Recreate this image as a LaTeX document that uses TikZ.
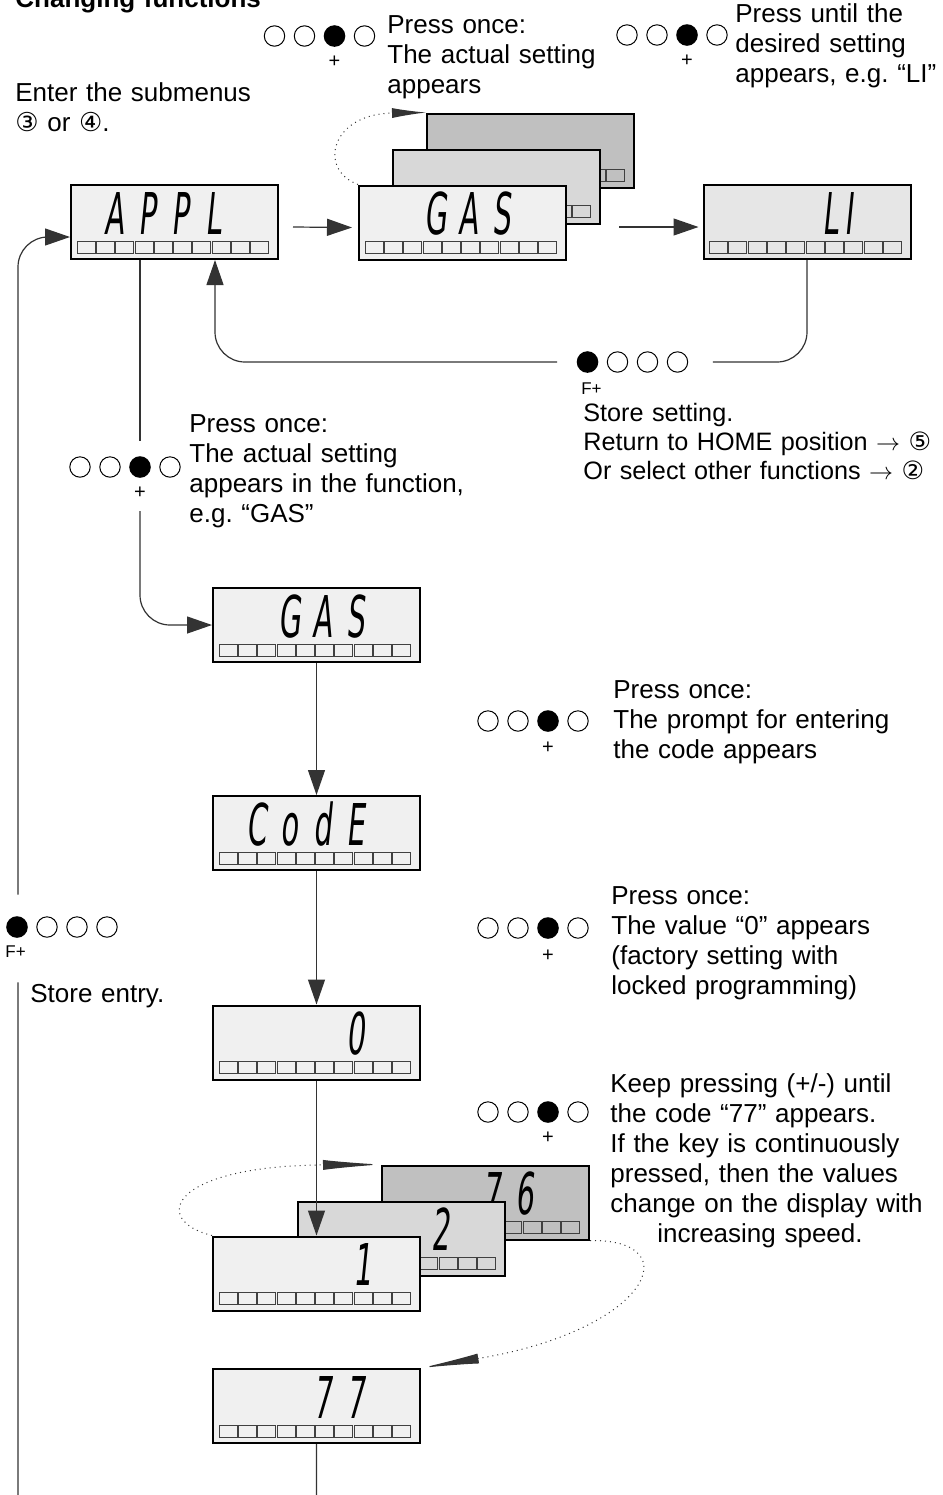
\documentclass[tikz,border=0pt]{standalone}
\usepackage{fontspec}
\setmainfont{Liberation Sans}
\newfontfamily\symfont{DejaVu Sans}
\newfontfamily\segfont[FakeSlant=0.1,FakeStretch=0.5]{DejaVu Sans}
\usepackage{xcolor}
\usepackage{tikz}
\usetikzlibrary{arrows.meta,positioning,calc}

\definecolor{lcdfront}{HTML}{F0F0F0}
\definecolor{lcdmid}{HTML}{D8D8D8}
\definecolor{lcdback}{HTML}{C0C0C0}
\definecolor{lcdli}{HTML}{E6E6E6}
\definecolor{cellline}{HTML}{404040}

% one character position of the display
\newcommand{\cell}[1]{\makebox[16.5pt]{#1}}
% row of four keys, #3 = pressed key
\newcommand{\keyrow}[3]{%
  \node[keyslot] (#1) at (#2) {};
  \foreach \k in {1,...,4}{%
    \ifnum\k=#3\relax
      \fill ($(#1.center)+(\k*15pt-37.5pt,0pt)$) circle (5.4pt);
    \else
      \draw[line width=0.5pt] ($(#1.center)+(\k*15pt-37.5pt,0pt)$) circle (5.1pt);
    \fi}}

\begin{document}
\begin{tikzpicture}[x=0.5pt, y=-0.5pt,
    lcd/.style={rectangle, draw, line width=1pt, fill=lcdfront,
      minimum width=103.5pt, minimum height=37pt,
      inner xsep=13.5pt, inner ysep=0pt, text width=76.5pt, align=left,
      text height=24.5pt, text depth=12.5pt,
      font=\segfont\fontsize{28.8pt}{30pt}\selectfont,
      path picture={\foreach \i in {0,...,9}
        \draw[cellline, line width=0.4pt]
          ([xshift=3pt+\i*9.65pt, yshift=3pt]path picture bounding box.south west) rectangle ++(9pt,6pt);}},
    note/.style={anchor=base west, inner sep=0pt, text width=200pt, align=left,
      font=\fontsize{13pt}{15pt}\selectfont},
    keysign/.style={inner sep=0pt, font=\fontsize{10pt}{11pt}\selectfont},
    fkeysign/.style={inner sep=0pt, font=\fontsize{8.5pt}{10pt}\selectfont},
    keyslot/.style={minimum width=55pt, minimum height=10pt, inner sep=0pt},
    flow/.style={draw=black!80, line width=0.6pt},
    flowarrow/.style={-{Triangle[length=12.5pt,width=8.5pt]}},
    roll/.style={dotted, line width=0.5pt, draw=black!80}]

    \path[use as bounding box, fill=white] (0,0) rectangle (943,1495);

    % texts
    \node[note] (title) at (15,7) {\bfseries Changing functions};
    \node[note] (tEnter) at (15,101) {Enter the submenus\\{\symfont ③} or {\symfont ④}.};
    \node[note] (tOnceA) at (387,33) {Press once:\\The actual setting\\appears};
    \node[note] (tUntil) at (735,22) {Press until the\\desired setting\\appears, e.g.\ “LI”};
    \node[note] (tOnceB) at (189,432) {Press once:\\The actual setting\\appears in the function,\\e.g.\ “GAS”};
    \node[note, font=\fontsize{12.6pt}{14.5pt}\selectfont] (tStore) at (583,421) {Store setting.\\Return to HOME position $\rightarrow$ {\symfont ⑤}\\Or select other functions $\rightarrow$ {\symfont ②}};
    \node[note] (tPrompt) at (613,698) {Press once:\\The prompt for entering\\the code appears};
    \node[note] (tValue) at (611,904) {Press once:\\The value “0” appears\\(factory setting with\\locked programming)};
    \node[note] (tKeep) at (610,1092) {Keep pressing (+/-) until\\the code “77” appears.\\If the key is continuously\\pressed, then the values\\change on the display with\\\hspace*{23.5pt}increasing speed.};
    \node[note] (tEntry) at (30,1002) {Store entry.};

    % keys
    \keyrow{keyA}{319.5,36}{3}
    \node[keysign] (plusA) at ($(keyA.center)+(7.5pt,-13pt)$) {+};
    \keyrow{keyB}{672,35}{3}
    \node[keysign] (plusB) at ($(keyB.center)+(7.5pt,-13pt)$) {+};
    \keyrow{keyS}{632.5,362}{1}
    \node[fkeysign] (fplusS) at (591.5,389) {F+};
    \keyrow{keyM}{125,467}{3}
    \node[keysign] (plusM) at ($(keyM.center)+(7.5pt,-13pt)$) {+};
    \keyrow{keyR1}{533,721}{3}
    \node[keysign] (plusR1) at ($(keyR1.center)+(7.5pt,-13.5pt)$) {+};
    \keyrow{keyR2}{533,928}{3}
    \node[keysign] (plusR2) at ($(keyR2.center)+(7.5pt,-14pt)$) {+};
    \keyrow{keyR3}{533,1112}{3}
    \node[keysign] (plusR3) at ($(keyR3.center)+(7.5pt,-13pt)$) {+};
    \keyrow{keyF}{62,927}{1}
    \node[fkeysign, anchor=west] (fplusF) at (5,952) {F+};

    % displays
    \node[lcd] (appl) at (174.5,222) {\cell{A}\cell{P}\cell{P}\cell{L}};
    \node[lcd, fill=lcdback] (gasC) at (530.5,150.5) {};
    \node[lcd, fill=lcdmid] (gasB) at (496.5,186.5) {};
    \node[lcd] (gasA) at (462.5,222.5) {\cell{}\cell{G}\cell{A}\cell{S}};
    \node[lcd, fill=lcdli] (li) at (807,222) {\hspace*{46pt}L\hspace{3pt}I};
    \node[lcd] (gasfn) at (316.5,625) {\cell{}\cell{G}\cell{A}\cell{S}};
    \node[lcd] (code) at (316.5,833) {\cell{C}\cell{o}\cell{d}\cell{E}};
    \node[lcd] (v0) at (316.5,1042.5) {\cell{}\cell{}\cell{}\cell{0}};
    \node[lcd, fill=lcdback] (v76) at (485.5,1202.5) {\cell{}\cell{}\cell{7}\cell{6}};
    \node[lcd, fill=lcdmid] (v2) at (401.5,1238.5) {\cell{}\cell{}\cell{}\cell{2}};
    \node[lcd] (v1) at (316.5,1273.5) {\cell{}\cell{}\cell{}\makebox[16.5pt][r]{1}};
    \node[lcd] (v77) at (316.5,1406) {\cell{}\cell{}\cell{7}\cell{7}};
    \coordinate (loopL) at (18,1525);

    % connectors
    \draw[flow, flowarrow] ($(appl.east)+(7pt,-2.5pt)$) -- ($(gasA.west)+(-3pt,-2.5pt)$);
    \draw[flow, flowarrow] ($(gasB.east |- li.west)+(9pt,-2.5pt)$) -- ($(li.west)+(-2pt,-2.5pt)$);
    \draw[flow, rounded corners=15pt] (li.south) |- ($(keyS.east)+(12.5pt,0pt)$);
    \draw[flow, flowarrow, rounded corners=15pt] ($(keyS.west)+(-10pt,0pt)$) -| ($(appl.south)+(20.25pt,0pt)$);
    \draw[flow] (appl.south -| plusM) -- ($(plusM |- keyM.north)+(0pt,8pt)$);
    \draw[flow, flowarrow, rounded corners=15pt] ($(plusM.south)+(0pt,-6pt)$) |- (gasfn.west);
    \draw[flow, flowarrow] (gasfn.south) -- (code.north);
    \draw[flow, flowarrow] (code.south) -- (v0.north);
    \draw[flow, flowarrow] (v0.south) -- (v1.north);
    \draw[flow, rounded corners=15pt] (v77.south) |- (loopL) -- ($(loopL |- fplusF.south)+(0pt,-12pt)$);
    \draw[flow, flowarrow, rounded corners=15pt] ($(loopL |- keyF.north)+(0pt,11pt)$) |- ($(appl.west)+(0pt,-7.5pt)$);

    % cycling through the values
    \draw[roll, -{Latex[length=17pt,width=5pt]}] (gasA.north west) .. controls (318,170) and (330,114) .. (gasC.north west);
    \draw[roll, -{Latex[length=29pt,width=5pt]}] (v1.north west) .. controls (150,1220) and (170,1166) .. (v76.north west);
    \draw[roll, -{Latex[length=29pt,width=5pt]}] (v76.south east) .. controls (690,1239) and (650,1330) .. (v77.north east);
\end{tikzpicture}
\end{document}
